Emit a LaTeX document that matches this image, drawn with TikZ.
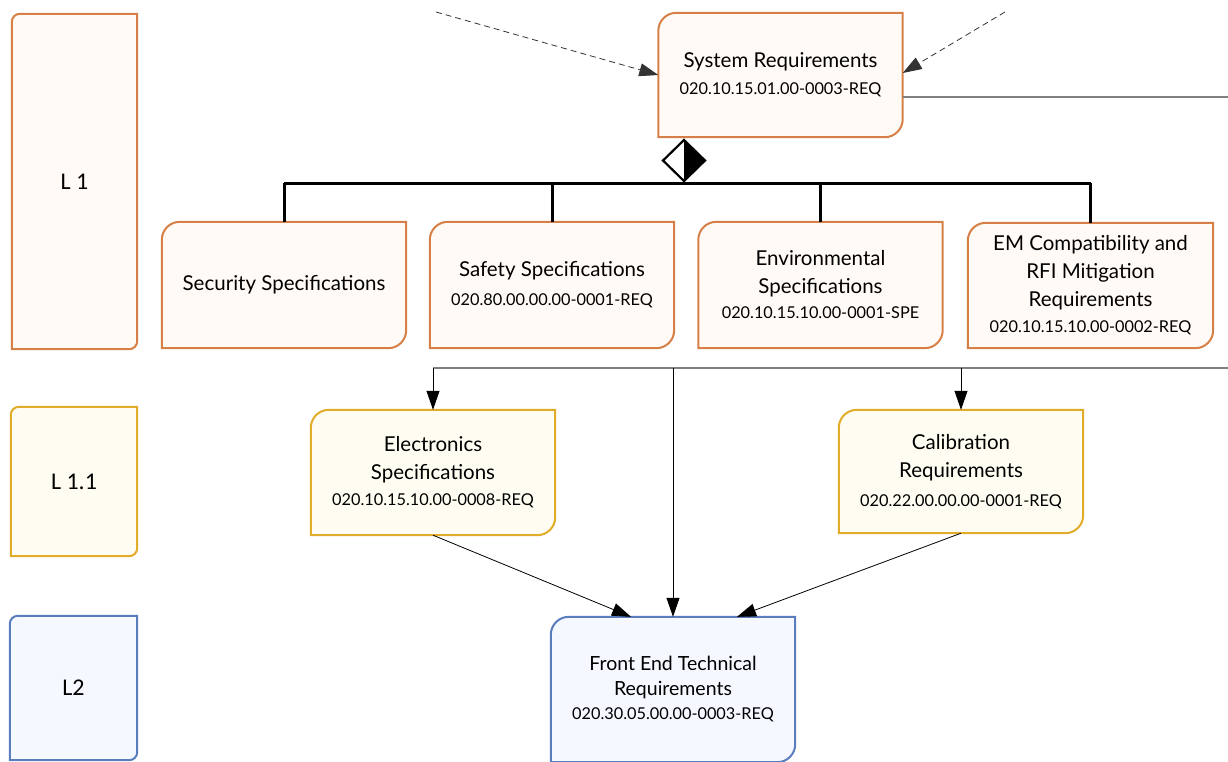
\documentclass[tikz,border=0pt]{standalone}
\usepackage{fontspec}
\setmainfont{Lato}
\newfontfamily\lvlfont{Carlito}
\usetikzlibrary{arrows.meta,backgrounds,calc}
\definecolor{orB}{RGB}{214,128,72}
\definecolor{orF}{RGB}{255,250,245}
\definecolor{yeB}{RGB}{226,172,42}
\definecolor{yeF}{RGB}{255,253,242}
\definecolor{blB}{RGB}{90,125,190}
\definecolor{blF}{RGB}{246,248,255}
\definecolor{grL}{RGB}{128,128,128}
\newcommand\idtx{\fontsize{16.3}{20}\selectfont}
\newcommand\twocorner[3]{%
  \draw[#3] ([yshift=-#2]#1.north west) arc[start angle=180,end angle=90,radius=#2]
    -- (#1.north east) -- ([yshift=#2]#1.south east)
    arc[start angle=0,end angle=-90,radius=#2] -- (#1.south west) -- cycle;}
\tikzset{
  req/.style={inner sep=0pt, minimum width=244pt, minimum height=125pt, align=center, font=\fontsize{20.5}{28}\selectfont},
  lvl/.style={inner sep=0pt, align=center, font=\lvlfont\fontsize{24}{28}\selectfont},
  arr/.style={-{Triangle[length=19pt,width=13pt]}, line width=0.8pt},
  dsh/.style={arr, dashed, dash pattern=on 6pt off 4pt, draw=black!80},
  bus/.style={line width=3pt},
  gry/.style={draw=grL, line width=1.4pt},
}
\begin{document}
\begin{tikzpicture}[x=1pt,y=1pt]
\useasboundingbox (0,0) rectangle (1228,-761);
% level boxes
\node[lvl, minimum width=125pt, minimum height=335pt] (L1) at (74.5,-181.5) {L 1};
\node[lvl, minimum width=126pt, minimum height=149pt] (L11) at (74,-481.5) {L 1.1};
\node[lvl, minimum width=127pt, minimum height=144pt] (L2) at (73.5,-688) {L2};
% requirement nodes
\node[req, minimum height=124pt] (sys) at (780.5,-75) {System Requirements\\[-1pt]{\idtx 020.10.15.01.00-0003-REQ}};
\node[req, minimum height=126pt] (sec) at (284,-285) {Security Specifications};
\node[req, minimum height=126pt] (saf) at (552,-285) {Safety Specifications\\[1pt]{\idtx 020.80.00.00.00-0001-REQ}};
\node[req, minimum height=126pt] (env) at (820.5,-285) {Environmental\\Specifications\\[-3pt]{\idtx 020.10.15.10.00-0001-SPE}};
\node[req, minimum width=245pt, minimum height=125pt] (emc) at (1090.5,-285.5) {EM Compatibility and\\RFI Mitigation\\Requirements\\[-2pt]{\idtx 020.10.15.10.00-0002-REQ}};
\node[req] (ele) at (433,-472.5) {Electronics\\Specifications\\[-2pt]{\idtx 020.10.15.10.00-0008-REQ}};
\node[req, minimum height=123pt] (cal) at (961,-471.5) {Calibration\\Requirements\\[1pt]{\idtx 020.22.00.00.00-0001-REQ}};
\node[req, minimum height=145pt, font=\fontsize{19.5}{25}\selectfont] (fe) at (673,-689.5) {Front End Technical\\Requirements\\[-1pt]{\idtx 020.30.05.00.00-0003-REQ}};
\begin{pgfonlayer}{background}
  \twocorner{L1}{8pt}{draw=orB, fill=orF, line width=2pt}
  \twocorner{L11}{8pt}{draw=yeB, fill=yeF, line width=2pt}
  \twocorner{L2}{8pt}{draw=blB, fill=blF, line width=2pt}
  \foreach \n in {sys,sec,saf,env,emc}{\twocorner{\n}{18pt}{draw=orB, fill=orF, line width=2pt}}
  \foreach \n in {ele,cal}{\twocorner{\n}{18pt}{draw=yeB, fill=yeF, line width=2pt}}
  \twocorner{fe}{18pt}{draw=blB, fill=blF, line width=2pt}
\end{pgfonlayer}
% aggregation diamond and bus
\coordinate (dT) at (684,-140);
\coordinate (dB) at (684,-181);
\coordinate (dL) at (663,-160.5);
\coordinate (dR) at (705,-160.5);
\fill (dT) -- (dR) -- (dB) -- cycle;
\draw[line width=2.2pt, line join=miter] (dT) -- (dL) -- (dB) -- (dR) -- cycle;
\coordinate (busL) at (284,-183);
\coordinate (busR) at (1091,-183);
\draw[bus] (busL) -- (busR);
\foreach \n in {sec,saf,env,emc}{\draw[bus] (\n.north |- busL) -- (\n.north);}
% dashed incoming arrows
\coordinate (ds1) at (436,-12);
\coordinate (ds2) at (1005,-12);
\draw[dsh] (ds1) -- ([yshift=0pt]sys.west);
\draw[dsh] (ds2) -- ([yshift=2pt]sys.east);
% line to the right
\coordinate (rt1) at (1228,-97);
\draw[gry] (sys.east |- rt1) -- (rt1);
% distribution line
\coordinate (dst) at (1228,-368);
\draw[gry] (ele.north |- dst) -- (dst);
\draw[arr] (ele.north |- dst) -- (ele.north);
\draw[arr] (cal.north |- dst) -- (cal.north);
\draw[arr] (fe.north |- dst) -- (fe.north);
\draw[arr] (ele.south) -- ([xshift=-42pt]fe.north);
\draw[arr] (cal.south) -- ([xshift=64pt]fe.north);
\end{tikzpicture}
\end{document}
